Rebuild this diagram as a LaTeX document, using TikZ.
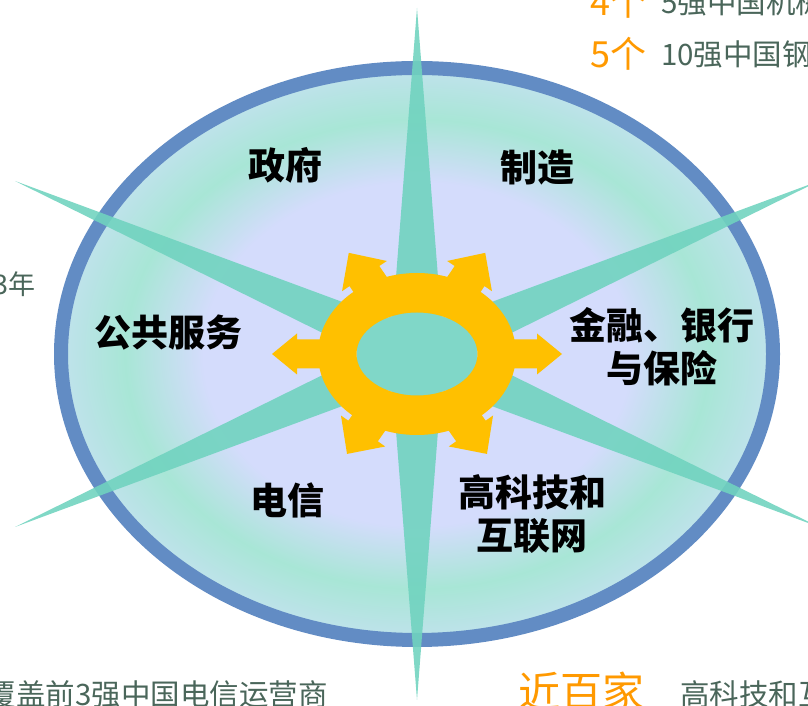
\documentclass[tikz,border=0pt]{standalone}
\usepackage{fontspec}
\newfontfamily\cjk{Noto Sans CJK SC}

\definecolor{lav}{RGB}{212,220,252}
\definecolor{mintglow}{RGB}{168,230,214}
\definecolor{edgeblue}{RGB}{192,226,236}
\definecolor{rimblue}{RGB}{98,140,196}
\definecolor{spikemint}{RGB}{112,211,191}
\definecolor{holemint}{RGB}{128,215,200}
\definecolor{gold}{RGB}{255,192,0}
\definecolor{slate}{RGB}{74,102,90}
\definecolor{amber}{RGB}{255,153,0}

\pgfdeclareradialshading{ovalglow}{\pgfpoint{0bp}{0bp}}{color(0bp)=(lav);color(15bp)=(lav);color(20.5bp)=(mintglow);color(25bp)=(edgeblue);color(50bp)=(edgeblue)}

\begin{document}
\begin{tikzpicture}[x=1pt,y=1pt]
    \tikzstyle{spike}=[fill=spikemint, fill opacity=0.89]
    \tikzstyle{gear}=[fill=gold]
    \tikzstyle{sector}=[font=\cjk\bfseries\fontsize{37}{43}\selectfont, align=center, inner sep=0pt]
    \tikzstyle{remark}=[font=\cjk\fontsize{29.5}{34}\selectfont, text=slate, inner sep=0pt]
    \tikzstyle{tally}=[font=\cjk\fontsize{36}{40}\selectfont, text=amber, inner sep=0pt]

    \useasboundingbox (0,0) rectangle (808,706);
    \coordinate (c) at (417,352);

    % oval with glow and blue rim
    \shade[shading=ovalglow] (c) ellipse [x radius=356, y radius=286];
    \draw[rimblue, line width=14pt] (c) ellipse [x radius=356, y radius=286];

    % compass spikes
    \fill[spike] (417,698) -- (444,352) -- (417,6) -- (390,352) -- cycle;
    \fill[spike] (15,525) -- (426.1,373.1) -- (819,179) -- (407.9,330.9) -- cycle;
    \fill[spike] (15,179) -- (407.9,373.1) -- (819,525) -- (426.1,330.9) -- cycle;
    \fill[holemint] (c) ellipse [x radius=60.5, y radius=41.5];

    % ring with arrows
    \fill[gear, even odd rule] (c) ellipse [x radius=99, y radius=81] (c) ellipse [x radius=60.5, y radius=41.5];
    \fill[gear, shift={(c)}] (75,14.5) -- (120,14.5) -- (120,20.5) -- (145,0) -- (120,-20.5) -- (120,-14.5) -- (75,-14.5) -- cycle;
    \fill[gear, shift={(c)}, rotate=180] (75,14.5) -- (120,14.5) -- (120,20.5) -- (145,0) -- (120,-20.5) -- (120,-14.5) -- (75,-14.5) -- cycle;
    \fill[gear, shift={(c)}, rotate=56] (60,18) -- (94,18) -- (94,27) -- (122,0) -- (94,-27) -- (94,-18) -- (60,-18) -- cycle;
    \fill[gear, shift={(c)}, rotate=124] (60,18) -- (94,18) -- (94,27) -- (122,0) -- (94,-27) -- (94,-18) -- (60,-18) -- cycle;
    \fill[gear, shift={(c)}, rotate=-125] (60,18) -- (94,18) -- (94,27) -- (122,0) -- (94,-27) -- (94,-18) -- (60,-18) -- cycle;
    \fill[gear, shift={(c)}, rotate=-55] (60,18) -- (94,18) -- (94,27) -- (122,0) -- (94,-27) -- (94,-18) -- (60,-18) -- cycle;

    \node[sector] (gov) at (285,541) {政府};
    \node[sector] (mfg) at (537,538) {制造};
    \node[sector] (pub) at (168,373) {公共服务};
    \node[sector] (fin) at (662,359) {金融、银行\\与保险};
    \node[sector] (tel) at (287,206) {电信};
    \node[sector] (tech) at (532,192) {高科技和\\互联网};

    \node[tally, anchor=west] (four) at (590,704) {4个};
    \node[remark, anchor=west] (mech) at (661,704) {5强中国机械};
    \node[tally, anchor=west] (five) at (590,652) {5个};
    \node[remark, anchor=west] (steel) at (661,652) {10强中国钢};
    \node[remark, anchor=east, font=\cjk\fontsize{27}{32}\selectfont] (years) at (36,422) {3年};
    \node[remark, anchor=east] (telco) at (328,12) {覆盖前3强中国电信运营商};
    \node[tally, anchor=west, font=\cjk\fontsize{42}{46}\selectfont] (near) at (518,15) {近百家};
    \node[remark, anchor=west] (hitech) at (680,12) {高科技和互联网};
\end{tikzpicture}
\end{document}
